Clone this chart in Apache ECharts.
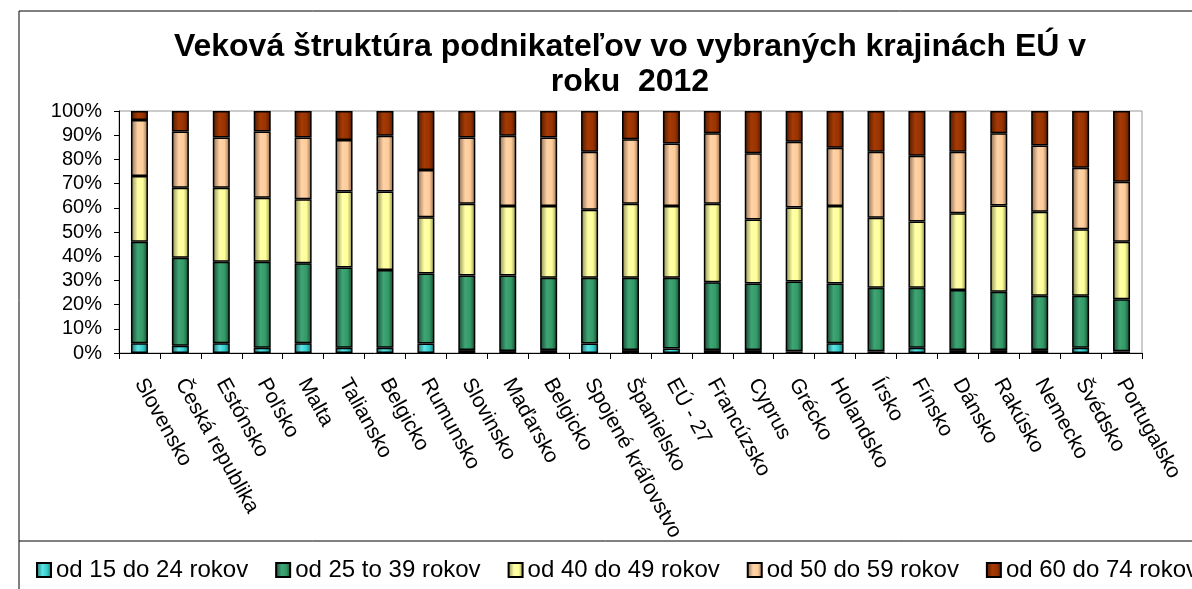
<!DOCTYPE html>
<html>
<head>
<meta charset="utf-8">
<script src="https://cdn.jsdelivr.net/npm/echarts@6/dist/echarts.min.js"></script>
<style>
  html, body { margin: 0; padding: 0; background: #fff; }
  #chart { width: 1192px; height: 589px; }
</style>
</head>
<body>
<div id="chart"></div>
<script>
var countries = ['Slovensko', 'Česká republika', 'Estónsko', 'Poľsko', 'Malta', 'Taliansko', 'Belgicko',
  'Rumunsko', 'Slovinsko', 'Maďarsko', 'Belgicko', 'Spojené kráľovstvo', 'Španielsko', 'EÚ - 27',
  'Francúzsko', 'Cyprus', 'Grécko', 'Holandsko', 'Írsko', 'Fínsko', 'Dánsko', 'Rakúsko', 'Nemecko',
  'Švédsko', 'Portugalsko'];

var age15_24 = [4.0, 3.0, 4.0, 2.2, 4.0, 2.2, 2.2, 3.9, 1.2, 0.8, 1.2, 3.9, 1.2, 1.9,
  1.2, 1.2, 0.7, 4.0, 0.7, 2.2, 1.2, 1.2, 1.2, 2.2, 0.7];
var age25_39 = [42.0, 36.4, 33.7, 35.5, 33.1, 33.1, 32.1, 29.0, 30.8, 31.2, 29.9, 27.2, 29.9, 29.2,
  28.0, 27.5, 28.8, 24.7, 26.3, 24.8, 24.8, 24.1, 22.5, 21.5, 21.5];
var age40_49 = [27.1, 28.9, 30.6, 26.5, 26.4, 31.4, 32.4, 23.2, 29.7, 28.7, 29.6, 28.1, 30.6, 29.6,
  32.5, 26.5, 30.6, 32.0, 28.9, 27.3, 31.7, 35.6, 34.7, 27.4, 23.8];
var age50_59 = [23.2, 23.2, 20.7, 27.3, 25.5, 21.3, 23.1, 19.5, 27.4, 29.1, 28.3, 24.0, 26.6, 25.9,
  29.1, 27.3, 27.2, 24.1, 27.3, 27.2, 25.5, 29.9, 27.3, 25.5, 24.8];
var age60_74 = [3.7, 8.5, 11.0, 8.5, 11.0, 12.0, 10.2, 24.4, 10.9, 10.2, 11.0, 16.8, 11.7, 13.4,
  9.2, 17.5, 12.7, 15.2, 16.8, 18.5, 16.8, 9.2, 14.3, 23.4, 29.2];

var yTicks = [0, 10, 20, 30, 40, 50, 60, 70, 80, 90, 100];

var font = 'Liberation Sans, Arial, sans-serif';

// bars look like little cylinders: darker edges, lighter stripe left of the middle
function shade(dark, base, light) {
  return new echarts.graphic.LinearGradient(0, 0, 1, 0, [
    { offset: 0, color: dark },
    { offset: 0.4, color: light },
    { offset: 0.7, color: base },
    { offset: 1, color: dark }
  ]);
}

function makeSeries(name, data, dark, base, light) {
  return {
    name: name,
    type: 'bar',
    stack: 'vek',
    barWidth: 17,
    data: data,
    itemStyle: {
      color: shade(dark, base, light),
      borderColor: '#000',
      borderWidth: 1.5
    }
  };
}

var chart = echarts.init(document.getElementById('chart'));
chart.setOption({
  animation: false,
  backgroundColor: '#fff',
  title: {
    text: 'Veková štruktúra podnikateľov vo vybraných krajinách EÚ v\nroku  2012',
    left: 625,
    textAlign: 'center',
    top: 25,
    textStyle: { fontFamily: font, fontSize: 32, fontWeight: 'bold', color: '#000', lineHeight: 35 }
  },
  legend: {
    left: 31,
    top: 553,
    width: 1400,
    orient: 'horizontal',
    icon: 'rect',
    itemWidth: 14,
    itemHeight: 14,
    itemGap: 27,
    textStyle: { fontFamily: font, fontSize: 24, color: '#000' },
    data: ['od 15 do 24 rokov', 'od 25 to 39 rokov', 'od 40 do 49 rokov', 'od 50 do 59 rokov', 'od 60 do 74 rokov']
  },
  graphic: [
    { type: 'rect', shape: { x: 19, y: 11, width: 1200, height: 600 }, style: { fill: 'none', stroke: '#000', lineWidth: 1 }, silent: true },
    { type: 'line', shape: { x1: 19, y1: 541, x2: 1192, y2: 541 }, style: { stroke: '#000', lineWidth: 1 }, silent: true }
  ],
  grid: {
    left: 119,
    right: 50,
    top: 111,
    bottom: 236,
    show: true,
    borderColor: '#999',
    borderWidth: 1
  },
  xAxis: {
    type: 'category',
    data: countries,
    axisLine: { lineStyle: { color: '#000' } },
    axisTick: { show: true, length: 6, lineStyle: { color: '#000' } },
    axisLabel: { interval: 0, rotate: -61, margin: 27, fontFamily: font, fontSize: 21, color: '#000' }
  },
  yAxis: {
    type: 'value',
    min: yTicks[0],
    max: yTicks[yTicks.length - 1],
    interval: 10,
    axisLine: { show: true, lineStyle: { color: '#000' } },
    axisTick: { show: true, length: 5, lineStyle: { color: '#000' } },
    splitLine: { show: false },
    axisLabel: { formatter: '{value}%', margin: 17, fontFamily: font, fontSize: 20, color: '#000' }
  },
  series: [
    makeSeries('od 15 do 24 rokov', age15_24, '#1a6b6b', '#33cccc', '#5fe3e3'),
    makeSeries('od 25 to 39 rokov', age25_39, '#17442f', '#339966', '#3fa575'),
    makeSeries('od 40 do 49 rokov', age40_49, '#8a8a50', '#ffff99', '#ffffa8'),
    makeSeries('od 50 do 59 rokov', age50_59, '#8a6a50', '#ffcc99', '#ffd2a6'),
    makeSeries('od 60 do 74 rokov', age60_74, '#4d1a00', '#993300', '#a53a05')
  ]
});
</script>
</body>
</html>
